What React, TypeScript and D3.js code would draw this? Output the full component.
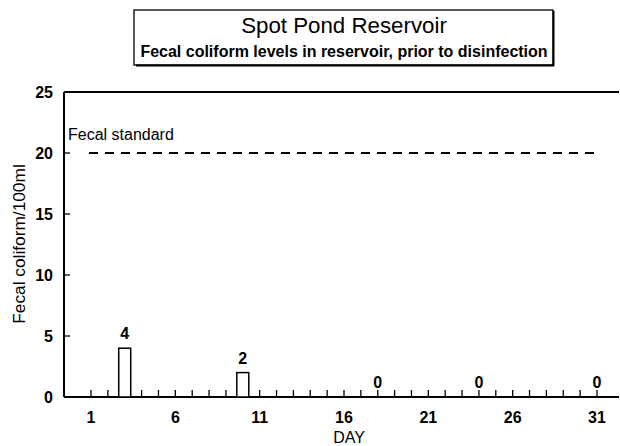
import React from "react";
import * as d3 from "d3";

const days = [3, 10, 18, 24, 31];
const values = [4, 2, 0, 0, 0];
const xTickLabels = [1, 6, 11, 16, 21, 26, 31];
const yTickValues = [0, 5, 10, 15, 20, 25];
const standardValue = 20;
const title = "Spot Pond Reservoir";
const subtitle = "Fecal coliform levels in reservoir, prior to disinfection";

const W = 620;
const H = 446;

export default function App() {
  const x = d3.scaleLinear().domain([1, 31]).range([91, 597]);
  const y = d3.scaleLinear().domain([0, 25]).range([397, 92]);
  const left = 64;
  const right = 619;
  const barW = 12;
  const allDays = d3.range(1, 32);
  const font = "'Liberation Sans', Arial, Helvetica, sans-serif";

  return (
    <svg width={W} height={H} style={{ position: "absolute", left: 0, top: 0, background: "#fff" }} fontFamily={font}>
      {/* Title box */}
      <rect x={134} y={10} width={419} height={55} fill="#fff" stroke="#000" strokeWidth={1.3} />
      <line x1={136} y1={65.5} x2={554} y2={65.5} stroke="#000" strokeWidth={2.2} />
      <line x1={553.5} y1={11} x2={553.5} y2={66} stroke="#000" strokeWidth={2} />
      <text x={344} y={33} textAnchor="middle" fontSize={22.3}>{title}</text>
      <text x={344} y={57} textAnchor="middle" fontSize={16} fontWeight="bold">{subtitle}</text>

      {/* Frame */}
      <line x1={left} y1={y(25)} x2={right} y2={y(25)} stroke="#000" strokeWidth={2} />
      <line x1={left} y1={y(25)} x2={left} y2={y(0)} stroke="#000" strokeWidth={2} />
      <line x1={left} y1={y(0)} x2={right} y2={y(0)} stroke="#000" strokeWidth={2.2} />

      {/* Y ticks */}
      {yTickValues.map((v) => (
        <g key={v}>
          {v > 0 && v < 25 && (
            <line x1={left} x2={left + 6} y1={y(v)} y2={y(v)} stroke="#000" strokeWidth={1.3} />
          )}
          <text x={53} y={y(v)} dy="0.36em" textAnchor="end" fontSize={16} fontWeight="bold">{v}</text>
        </g>
      ))}

      {/* X ticks */}
      {allDays.filter((d) => !(days.includes(d) && values[days.indexOf(d)] > 0)).map((d) => (
        <line key={d} x1={x(d)} x2={x(d)} y1={y(0)} y2={y(0) - 7} stroke="#000" strokeWidth={1.3} />
      ))}
      {xTickLabels.map((d) => (
        <text key={d} x={x(d)} y={423} textAnchor="middle" fontSize={16} fontWeight="bold">{d}</text>
      ))}

      {/* Standard line */}
      <text x={68} y={140} fontSize={16}>Fecal standard</text>
      <line x1={x(1) - 2} x2={x(31)} y1={y(standardValue)} y2={y(standardValue)} stroke="#000" strokeWidth={2} strokeDasharray="9,7" />

      {/* Bars */}
      {days.map((d, i) => (
        <g key={d}>
          {values[i] > 0 && (
            <rect x={x(d) - barW / 2} y={y(values[i])} width={barW} height={y(0) - y(values[i])} fill="#fff" stroke="#000" strokeWidth={1.5} />
          )}
          <text x={x(d)} y={y(values[i]) - 9} textAnchor="middle" fontSize={16} fontWeight="bold">{values[i]}</text>
        </g>
      ))}

      {/* Axis titles */}
      <text x={349} y={443} textAnchor="middle" fontSize={16}>DAY</text>
      <text transform={`translate(25,244) rotate(-90)`} textAnchor="middle" fontSize={17.3}>Fecal coliform/100ml</text>
    </svg>
  );
}
